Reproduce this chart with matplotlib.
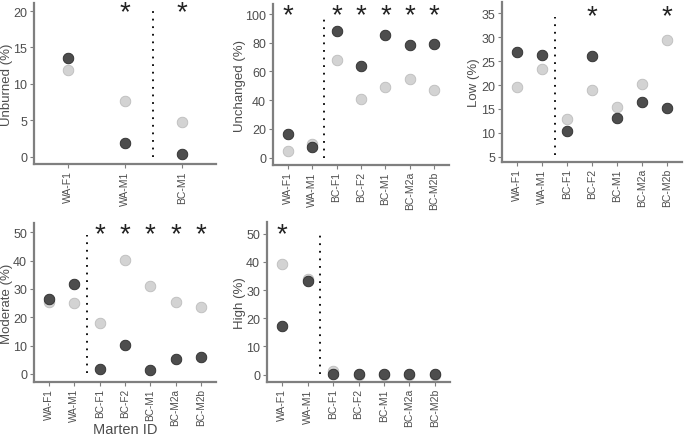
#!/usr/bin/env python3
"""Marten ID panels: burn severity classes, used vs available."""

import matplotlib
matplotlib.use("Agg")
from matplotlib import pyplot as plt

FW, FH = 685, 439

IDS_WA_BC = ["WA-F1", "WA-M1", "BC-F1", "BC-F2", "BC-M1", "BC-M2a", "BC-M2b"]
IDS_UNBURNED = ["WA-F1", "WA-M1", "BC-M1"]

# dark points / light points
unburned_dark = [13.6, 1.9, 0.4]
unburned_light = [11.9, 7.7, 4.8]
unburned_star = ["WA-M1", "BC-M1"]

unchanged_dark = [16.4, 7.2, 88.1, 64.0, 85.5, 78.7, 79.2]
unchanged_light = [4.4, 9.3, 68.2, 41.1, 49.1, 54.7, 47.0]
unchanged_star = ["WA-F1", "BC-F1", "BC-F2", "BC-M1", "BC-M2a", "BC-M2b"]

low_dark = [27.0, 26.3, 10.4, 26.0, 13.1, 16.5, 15.3]
low_light = [19.6, 23.3, 13.0, 19.0, 15.4, 20.2, 29.4]
low_star = ["BC-F2", "BC-M2b"]

moderate_dark = [26.6, 31.7, 1.8, 10.1, 1.4, 5.2, 6.0]
moderate_light = [25.4, 25.1, 17.8, 40.3, 31.1, 25.4, 23.5]
moderate_star = ["BC-F1", "BC-F2", "BC-M1", "BC-M2a", "BC-M2b"]

high_dark = [17.3, 33.3, 0.2, 0.1, 0.1, 0.1, 0.1]
high_light = [39.2, 33.8, 1.3, 0.0, 0.0, 0.0, 0.0]
high_star = ["WA-F1"]

DARK = "#4d4d4d"
LIGHT = "#d3d3d3"
AXCOL = "#7f7f7f"
TXT = "#4d4d4d"

plt.rcParams["font.family"] = ["Liberation Sans", "DejaVu Sans"]


def px_rect(l, r, t, b):
    return [l / FW, 1 - b / FH, (r - l) / FW, (b - t) / FH]


def panel(fig, rect, ids, dark, light, stars, ylabel, ylim, yticks,
          dot_span, star_y, label_right, xfont=7.5):
    l, r, t, b = rect
    ax = fig.add_axes(px_rect(l, r, t, b))
    xs = list(range(1, len(ids) + 1))
    ax.scatter(xs, light, s=58, color=LIGHT, edgecolors="#bdbdbd",
               linewidths=0.6, zorder=3, clip_on=False)
    ax.scatter(xs, dark, s=58, color=DARK, edgecolors="#2b2b2b",
               linewidths=0.6, zorder=4, clip_on=False)
    ax.plot([2.5, 2.5], dot_span, color="black", ls=(0, (1, 3.2)), lw=1.3,
            zorder=2)
    for name in stars:
        ax.text(ids.index(name) + 1, star_y, "*", ha="center", va="center",
                fontsize=20, color="#222222", clip_on=False)
    ax.set_xlim(0.4, len(ids) + 0.6)
    ax.set_ylim(*ylim)
    ax.set_xticks(xs)
    ax.set_xticklabels(ids, rotation=90, fontsize=xfont, color=TXT)
    ax.set_yticks(yticks)
    ax.set_yticklabels([str(t) for t in yticks], fontsize=9, color=TXT)
    ax.set_ylabel(ylabel, fontsize=9.5, color=TXT)
    ax.yaxis.set_label_coords((label_right - l) / (r - l), 0.5)
    for side in ("top", "right"):
        ax.spines[side].set_visible(False)
    for side in ("left", "bottom"):
        ax.spines[side].set_color(AXCOL)
        ax.spines[side].set_linewidth(1.6)
    ax.tick_params(axis="both", colors=AXCOL, length=3, width=0.8)
    ax.tick_params(axis="x", pad=1.5, labelcolor=TXT)
    ax.tick_params(axis="y", pad=2, labelcolor=TXT)
    return ax


fig = plt.figure(figsize=(FW / 100, FH / 100), dpi=100)

panel(fig, (34, 216, 4, 165), IDS_UNBURNED, unburned_dark, unburned_light,
      unburned_star, "Unburned (%)", (-1.0, 21.1), [0, 5, 10, 15, 20],
      (0, 20), 19.8, 13.5)
panel(fig, (273, 449, 5, 166), IDS_WA_BC, unchanged_dark, unchanged_light,
      unchanged_star, "Unchanged (%)", (-5.2, 107), [0, 20, 40, 60, 80, 100],
      (0, 97.5), 99, 246)
panel(fig, (502, 682, 3, 163), IDS_WA_BC, low_dark, low_light, low_star,
      "Low (%)", (3.9, 37.4), [5, 10, 15, 20, 25, 30, 35], (5.3, 34.3), 34.5,
      480)
panel(fig, (34, 216, 224, 383), IDS_WA_BC, moderate_dark, moderate_light,
      moderate_star, "Moderate (%)", (-2.9, 53.3), [0, 10, 20, 30, 40, 50],
      (0.3, 49), 49.5, 13.5, xfont=7.2)
panel(fig, (267, 450, 223, 383), IDS_WA_BC, high_dark, high_light, high_star,
      "High (%)", (-2.6, 54.1), [0, 10, 20, 30, 40, 50], (0.3, 49.5), 49.6,
      246)

fig.text(125 / FW, 1 - 430 / FH, "Marten ID", ha="center", va="center",
         fontsize=10.5, color=TXT)

fig.savefig("out.png", dpi=100)
